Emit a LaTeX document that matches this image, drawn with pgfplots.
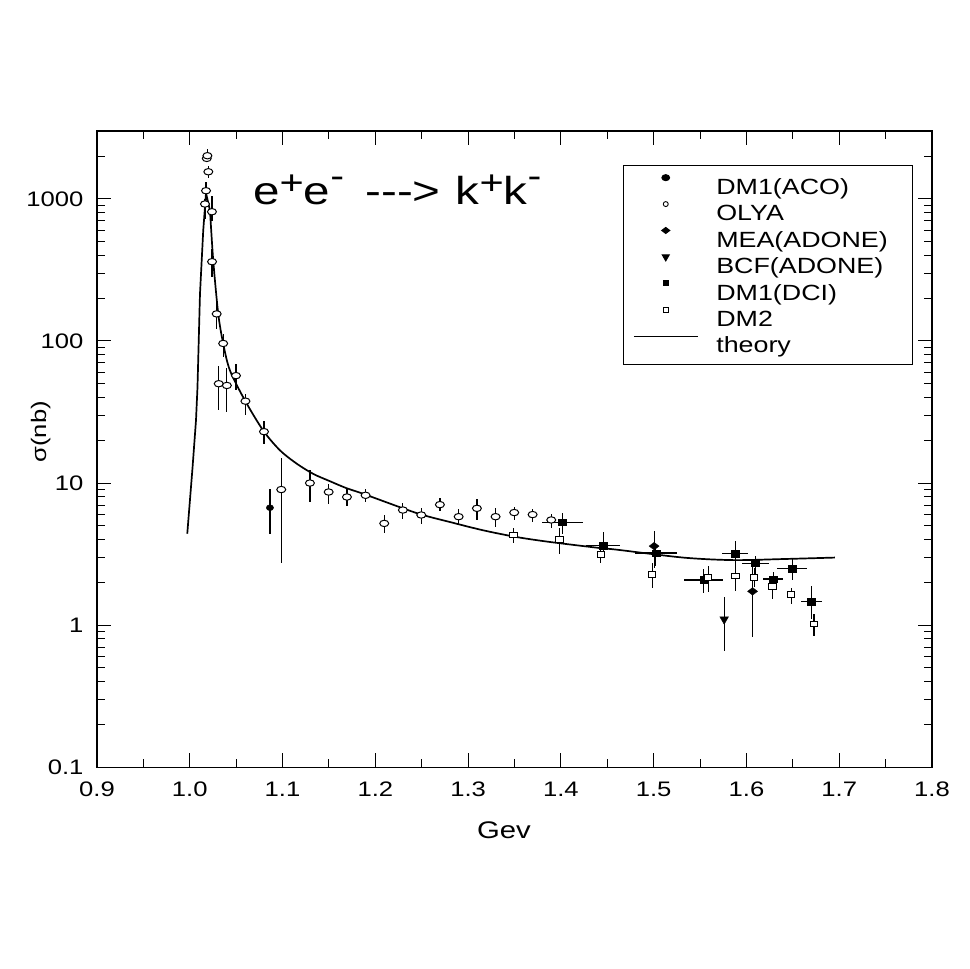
\documentclass[border=0pt]{standalone}
\usepackage{fontspec}
\setmainfont{Liberation Sans}[FakeStretch=1.22]
\newfontfamily\titlefont{Liberation Sans}[FakeStretch=1.22]
\usepackage{pgfplots}
\pgfplotsset{compat=1.18}
\usepackage{pgfplotstable}
\pgfplotsset{
  mylinelegend/.style={legend image code/.code={\draw[##1] (0pt,8pt) -- (64pt,8pt);}},
}

\pgfplotstableread{
x y ep em
1.0164 919 79 198
1.0175 1140 163 117
1.0183 1925 120 120
1.0190 2010 230 150
1.0200 1550 150 150
1.0239 811 241 109
1.0240 361 83 81
1.0290 155 32 33
1.0312 50 17 17.5
1.0360 96 16 19
1.0400 48.6 16.4 17
1.0498 57 12 12.2
1.0600 37.7 4.8 7.8
1.0800 23 4.2 4.1
1.0986 9.0 6.1 6.25
1.1295 10.0 2.3 2.7
1.1497 8.65 1.25 1.49
1.1694 7.98 1.12 1.12
1.1895 8.2 0.9 0.9
1.2096 5.2 0.73 0.74
1.2297 6.46 0.77 0.83
1.2495 5.96 0.73 0.83
1.2696 7.05 0.8 0.73
1.2898 5.8 0.73 0.75
1.3095 6.64 1.12 1.17
1.3296 5.8 0.87 0.89
1.3497 6.2 0.57 0.7
1.3695 6.0 0.6 0.7
1.3896 5.5 0.6 0.67
}\olya

\pgfplotstableread{
x y ep em
1.0864 6.71 2.3 2.3
}\aco

\pgfplotstableread{
x y ep em
1.5005 3.6 1.0 1.06
1.6066 1.73 0.85 0.91
}\mea

\pgfplotstableread{
x y ep em
1.5760 1.10 0.47 0.44
}\bcf

\pgfplotstableread{
x y xe ep em
1.4014 5.3 0.022 0.9 0.9
1.4456 3.63 0.018 0.87 0.68
1.5024 3.22 0.023 0.5 0.6
1.5541 2.08 0.021 0.39 0.39
1.5879 3.19 0.014 0.7 0.78
1.6098 2.73 0.015 0.32 0.55
1.6288 2.11 0.011 0.26 0.23
1.6493 2.50 0.0165 0.41 0.43
1.6700 1.46 0.011 0.44 0.35
}\dci

\pgfplotstableread{
x y ep em
1.3490 4.31 0.55 0.52
1.3986 4.0 0.8 0.85
1.4431 3.14 0.22 0.4
1.4984 2.27 0.45 0.44
1.5588 2.16 0.44 0.45
1.5883 2.22 0.61 0.48
1.6083 2.17 0.35 0.3
1.6281 1.87 0.2 0.33
1.6482 1.64 0.2 0.22
1.6729 1.02 0.17 0.18
}\dmtwo

\pgfplotstableread{
x y
0.9973 4.4
1.0030 12.9
1.0067 27.6
1.0083 47
1.0110 214
1.0145 597
1.0175 1100
1.0218 826
}\theorypeak

\pgfplotstableread{
x y
1.0218 826
1.0253 367
1.0307 155
1.0360 96
1.0433 62
1.0595 38.1
1.0792 23.4
1.0972 17.0
1.1152 13.7
1.1331 11.6
1.1511 10.3
1.1690 9.2
1.1870 8.4
1.2445 6.15
1.2804 5.32
1.3163 4.65
1.3523 4.17
1.3882 3.85
1.4420 3.49
1.4600 3.40
1.5318 2.99
1.5857 2.87
1.6396 2.92
1.6953 2.99
}\theorytail

\begin{document}
\begin{tikzpicture}
\path[use as bounding box] (0,0) rectangle (969pt,969pt);
\begin{axis}[
  at={(97pt,201.7pt)}, anchor=south west,
  width=835pt, height=636.3pt, scale only axis,
  xmin=0.9, xmax=1.8, ymin=0.1, ymax=3000, ymode=log,
  xtick={0.9,1.0,1.1,1.2,1.3,1.4,1.5,1.6,1.7,1.8},
  xticklabels={0.9,1.0,1.1,1.2,1.3,1.4,1.5,1.6,1.7,1.8},
  minor xtick={0.95,1.05,1.15,1.25,1.35,1.45,1.55,1.65,1.75},
  ytick={0.1,1,10,100,1000},
  yticklabels={0.1,1,10,100,1000},
  minor ytick={0.2,0.3,0.4,0.5,0.6,0.7,0.8,0.9,2,3,4,5,6,7,8,9,20,30,40,50,60,70,80,90,200,300,400,500,600,700,800,900,2000},
  tick align=inside, tick pos=both,
  xticklabel pos=bottom, yticklabel pos=left,
  major tick length=14pt, minor tick length=8pt,
  tick style={black, line width=1pt},
  axis line style={black, line width=1.2pt},
  ticklabel style={font=\fontsize{21}{21}\selectfont},
  xticklabel style={yshift=-11pt},
  yticklabel style={xshift=-10pt},
  xlabel={Gev}, ylabel={σ(nb)},
  xlabel style={font=\fontsize{24}{24}\selectfont, at={(axis description cs:0.4874,-0.0996)}, anchor=center},
  ylabel style={font=\fontsize{21}{21}\selectfont, at={(axis description cs:-0.0673,0.5274)}, anchor=center},
  legend style={at={(rel axis cs:0.6296,0.9466)}, anchor=north west, draw=black, line width=1pt,
    inner xsep=10pt, inner ysep=7pt, row sep=0pt, column sep=18pt,
    font=\fontsize{22}{22}\selectfont,
    nodes={inner sep=0pt, text height=22pt, text depth=4.4pt}},
  legend cell align=left,
  legend image code/.code={\path[draw=none] (0pt,8pt) -- (64pt,8pt); \path[mark repeat=2,mark phase=2,#1,draw=none] plot coordinates {(0pt,8pt) (32pt,8pt) (64pt,8pt)};},
  error bars/error bar style={black, line width=1.2pt},
  error bars/error mark=none,
]
% theory
\addplot[black, line width=1.7pt, mark=none, forget plot] table {\theorypeak};
\addplot[black, line width=1.7pt, mark=none, smooth, forget plot] table {\theorytail};
% OLYA
\addplot[only marks, mark=*, mark size=3.2pt, mark options={fill=white, draw=black, line width=1pt, xscale=1.4}, forget plot,
  error bars/.cd, y dir=both, y explicit]
  table[x=x, y=y, y error plus=ep, y error minus=em] {\olya};
% DM1(ACO)
\addplot[only marks, mark=*, mark size=3pt, mark options={fill=black, draw=black, xscale=1.22}, forget plot,
  error bars/.cd, y dir=both, y explicit]
  table[x=x, y=y, y error plus=ep, y error minus=em] {\aco};
% MEA
\addplot[only marks, mark=diamond*, mark size=5pt, mark options={fill=black, draw=black, rotate=90}, forget plot,
  error bars/.cd, y dir=both, y explicit]
  table[x=x, y=y, y error plus=ep, y error minus=em] {\mea};
% BCF
\addplot[only marks, mark=triangle*, mark size=5pt, mark options={fill=black, draw=black, rotate=180}, forget plot,
  error bars/.cd, y dir=both, y explicit]
  table[x=x, y=y, y error plus=ep, y error minus=em] {\bcf};
% DM1(DCI)
\addplot[only marks, mark=square*, mark size=3.3pt, mark options={fill=black, draw=black, xscale=1.2}, forget plot,
  error bars/.cd, y dir=both, y explicit, x dir=both, x explicit]
  table[x=x, y=y, x error=xe, y error plus=ep, y error minus=em] {\dci};
% DM2
\addplot[only marks, mark=square*, mark size=2.9pt, mark options={fill=white, draw=black, line width=1pt, xscale=1.27}, forget plot,
  error bars/.cd, y dir=both, y explicit]
  table[x=x, y=y, y error plus=ep, y error minus=em] {\dmtwo};

% legend
\addlegendimage{only marks, mark=*, mark size=3pt, mark options={fill=black, draw=black, xscale=1.3}}
\addlegendentry{\makebox[186pt][l]{DM1(ACO)}}
\addlegendimage{only marks, mark=*, mark size=2.5pt, mark options={fill=white, draw=black, line width=0.9pt}}
\addlegendentry{OLYA}
\addlegendimage{only marks, mark=diamond*, mark size=4pt, mark options={fill=black, draw=black, rotate=90}}
\addlegendentry{MEA(ADONE)}
\addlegendimage{only marks, mark=triangle*, mark size=4pt, mark options={fill=black, draw=black, rotate=180}}
\addlegendentry{BCF(ADONE)}
\addlegendimage{only marks, mark=square*, mark size=2.7pt, mark options={fill=black, draw=black}}
\addlegendentry{DM1(DCI)}
\addlegendimage{only marks, mark=square*, mark size=2.5pt, mark options={fill=white, draw=black, line width=0.9pt}}
\addlegendentry{DM2}
\addlegendimage{black, line width=1.1pt, mark=none, mylinelegend}
\addlegendentry{theory}
\end{axis}
\node[anchor=base west, inner sep=0pt, font=\titlefont\fontsize{39}{39}\selectfont] at (253pt,764pt)
  {e\raisebox{10pt}{\fontsize{34}{34}\selectfont +}e\raisebox{17pt}{\fontsize{34}{34}\selectfont -}\hspace{8pt} --->\hspace{2pt} k\raisebox{10pt}{\fontsize{34}{34}\selectfont +}k\raisebox{17pt}{\fontsize{34}{34}\selectfont -}};
\end{tikzpicture}
\end{document}
